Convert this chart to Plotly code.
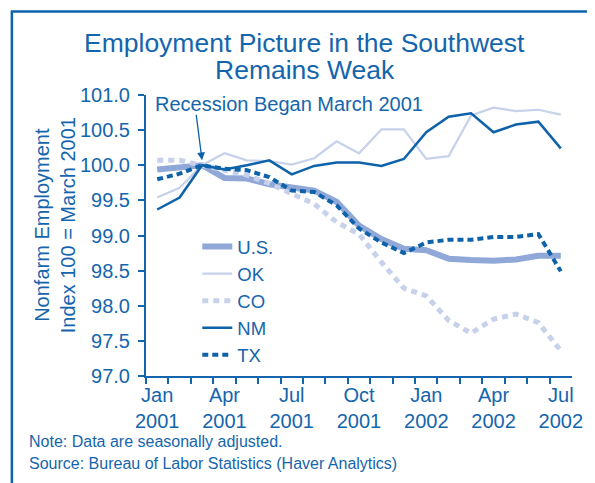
import plotly.graph_objects as go

# ── Data (index, March 2001 = 100) ───────────────────────────────
months = list(range(19))  # Jan 2001 .. Jul 2002
tick_pos = [0, 3, 6, 9, 12, 15, 18]
tick_text = ["Jan<br>2001", "Apr<br>2001", "Jul<br>2001", "Oct<br>2001",
             "Jan<br>2002", "Apr<br>2002", "Jul<br>2002"]

us = [99.94, 99.98, 100.0, 99.82, 99.81, 99.73, 99.69, 99.64, 99.48, 99.14,
      98.95, 98.81, 98.79, 98.67, 98.65, 98.64, 98.66, 98.71, 98.71]
ok = [99.54, 99.68, 100.0, 100.17, 100.07, 100.06, 100.01, 100.10, 100.34, 100.17,
      100.51, 100.51, 100.09, 100.13, 100.71, 100.82, 100.77, 100.79, 100.72]
co = [100.07, 100.07, 100.0, 99.93, 99.86, 99.74, 99.60, 99.45, 99.19, 99.02,
      98.62, 98.25, 98.14, 97.79, 97.61, 97.81, 97.88, 97.76, 97.36]
nm = [99.37, 99.54, 100.0, 99.94, 100.0, 100.07, 99.87, 99.99, 100.04, 100.04,
      99.99, 100.09, 100.47, 100.69, 100.74, 100.47, 100.58, 100.62, 100.24]
tx = [99.80, 99.88, 100.0, 99.95, 99.93, 99.83, 99.64, 99.62, 99.43, 99.10,
      98.90, 98.75, 98.90, 98.94, 98.94, 98.98, 98.98, 99.02, 98.49]

# ── Styling ──────────────────────────────────────────────────────
BLUE = "#1565ad"
DARK = "#0d62aa"
MID = "#8fa8d8"
LIGHT = "#c7d1ea"
FONT = "Liberation Sans, Arial, sans-serif"

# page body adds an 8px margin, so lay out in page pixels minus that offset
OFF = 8
W, H = 595 - OFF, 483 - OFF
PL, PR, PT, PB = 146, 578, 95, 376  # plot area in page pixels
ML, MT = PL - OFF, PT - OFF
MR, MB = W - (PR - OFF), H - (PB - OFF)
PW, PH = PR - PL, PB - PT


def px_x(x):
    return (x - PL) / PW


def px_y(y):
    return (PB - y) / PH


fig = go.Figure()
series = [
    ("U.S.", us, dict(color=MID, width=6)),
    ("OK", ok, dict(color=LIGHT, width=2.2)),
    ("CO", co, dict(color=LIGHT, width=5, dash="6px,5px")),
    ("NM", nm, dict(color=DARK, width=2.5)),
    ("TX", tx, dict(color=DARK, width=4, dash="6px,4px")),
]
for name, vals, line in series:
    fig.add_trace(go.Scatter(x=months, y=vals, name=name, mode="lines", line=line))

fig.update_layout(
    width=W,
    height=H,
    margin=dict(l=ML, r=MR, t=MT, b=MB),
    paper_bgcolor="white",
    plot_bgcolor="white",
    font=dict(family=FONT, color=BLUE, size=20),
    showlegend=True,
    legend=dict(
        x=px_x(198), y=px_y(228), xanchor="left", yanchor="top",
        bgcolor="rgba(0,0,0,0)", font=dict(size=18.5, color=BLUE),
        tracegroupgap=0,
    ),
    xaxis=dict(
        range=[-0.5, 18.5],
        tickvals=tick_pos,
        ticktext=tick_text,
        ticks="",
        showline=True,
        linecolor=BLUE,
        linewidth=2,
        showgrid=False,
        zeroline=False,
        tickfont=dict(size=20, color=BLUE),
        minor=dict(
            tickvals=[m - 0.5 for m in months],
            ticks="outside",
            ticklen=6,
            tickwidth=1.5,
            tickcolor=BLUE,
            showgrid=False,
        ),
    ),
    yaxis=dict(
        range=[97, 101],
        dtick=0.5,
        tickformat=".1f",
        ticks="outside",
        ticklen=6,
        tickwidth=1.5,
        tickcolor=BLUE,
        ticklabelstandoff=4,
        showline=True,
        linecolor=BLUE,
        linewidth=2,
        showgrid=False,
        zeroline=False,
        tickfont=dict(size=20, color=BLUE),
    ),
)

# title, two lines
for text, ypx in [("Employment Picture in the Southwest", 43),
                  ("Remains Weak", 70)]:
    fig.add_annotation(
        xref="paper", yref="paper", x=px_x(307), y=px_y(ypx),
        text=text, showarrow=False, font=dict(size=26.5, color=BLUE),
        xanchor="center", yanchor="middle",
    )

# y-axis title
fig.add_annotation(
    xref="paper", yref="paper", x=px_x(54), y=px_y(225),
    text="Nonfarm Employment<br>Index 100 = March 2001",
    textangle=-90, showarrow=False, font=dict(size=20, color=BLUE),
    xanchor="center", yanchor="middle",
)

# recession label and arrow
fig.add_annotation(
    x=-0.2, y=100.87, xref="x", yref="y",
    text="Recession Began March 2001", showarrow=False,
    xanchor="left", yanchor="middle", font=dict(size=20, color=BLUE),
)
fig.add_annotation(
    x=2, y=100.07, xref="x", yref="y", ax=-6, ay=-47,
    text="", showarrow=True, arrowhead=2, arrowsize=1.2, arrowwidth=1.3,
    arrowcolor=DARK,
)

# notes
for text, ypx in [("Note: Data are seasonally adjusted.", 441),
                  ("Source: Bureau of Labor Statistics (Haver Analytics)", 463)]:
    fig.add_annotation(
        xref="paper", yref="paper", x=px_x(25), y=px_y(ypx),
        text=text, showarrow=False,
        xanchor="left", yanchor="middle", font=dict(size=16, color=BLUE),
    )

# frame (left and top edges)
fig.add_shape(type="line", xref="paper", yref="paper",
              x0=px_x(10), x1=px_x(10), y0=px_y(11), y1=px_y(490),
              line=dict(color=DARK, width=2.5))
fig.add_shape(type="line", xref="paper", yref="paper",
              x0=px_x(9), x1=px_x(600), y0=px_y(11.5), y1=px_y(11.5),
              line=dict(color=DARK, width=2.5))

fig.write_html("out.html")
